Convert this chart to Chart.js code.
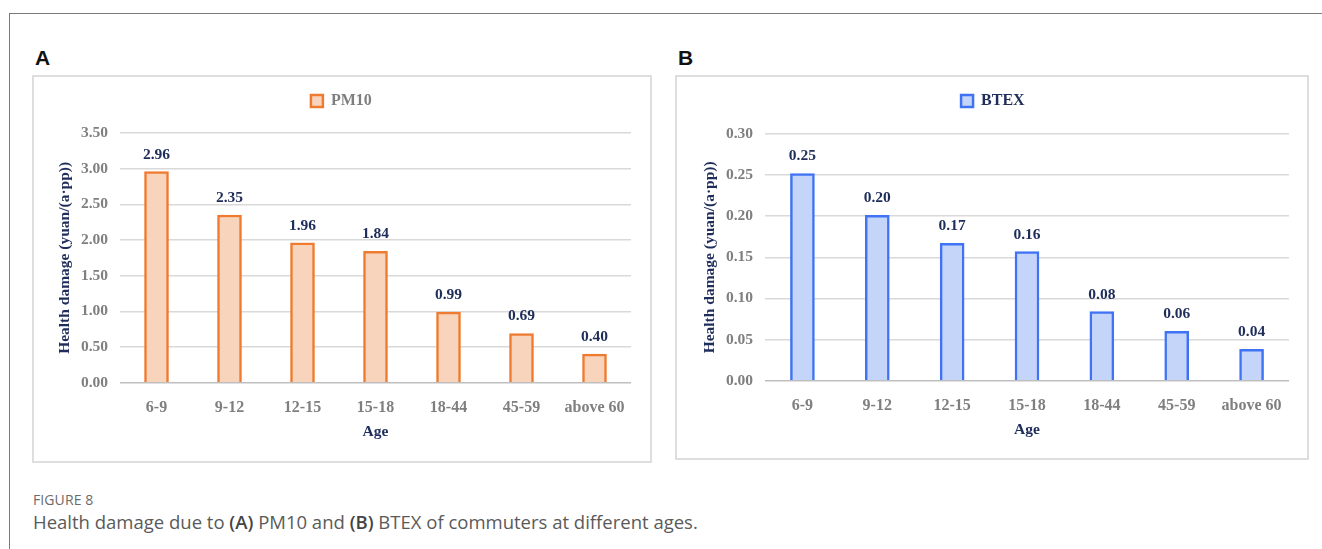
<!DOCTYPE html>
<html>
<head>
<meta charset="utf-8">
<script src="https://cdn.jsdelivr.net/npm/chart.js@4.4.0/dist/chart.umd.min.js"></script>
<style>
  html, body { margin: 0; padding: 0; background: #fff; }
  body { width: 1322px; height: 549px; position: relative; overflow: hidden; }
  .frame { position: absolute; left: 9px; top: 13px; width: 1400px; height: 600px;
           border-top: 1px solid #7a7a7a; border-left: 1px solid #7a7a7a; }
  .plabel { position: absolute; font-family: "Liberation Sans", Arial, sans-serif; font-weight: bold;
            font-size: 21px; color: #111; line-height: 1; }
  .box { position: absolute; box-sizing: border-box; border: 2px solid #dedede; background: #fff; }
  canvas.c { position: absolute; }
  .fig { position: absolute; left: 33px; top: 490px; font-family: "Open Sans", sans-serif;
         font-size: 14px; color: #6b6b6b; letter-spacing: 0.1px; }
  .cap { position: absolute; left: 33px; top: 509px; font-family: "Open Sans", sans-serif;
         font-size: 18.5px; color: #5a5a5a; white-space: nowrap; }
  .cap b { font-weight: 600; color: #444; }
</style>
</head>
<body>
<div class="frame"></div>
<div class="plabel" style="left:35px; top:47px;">A</div>
<div class="plabel" style="left:678px; top:47px;">B</div>
<div class="box" style="left:32px; top:75px; width:620px; height:388px;"></div>
<div class="box" style="left:675px; top:75px; width:634px; height:385px;"></div>
<canvas class="c" id="chartA"></canvas>
<canvas class="c" id="chartB"></canvas>
<div class="fig">FIGURE 8</div>
<div class="cap">Health damage due to <b>(A)</b> PM10 and <b>(B)</b> BTEX of commuters at different ages.</div>

<script>
// ---- data ----
const ageGroups = ["6-9", "9-12", "12-15", "15-18", "18-44", "45-59", "above 60"];
const pm10Values = [2.96, 2.35, 1.96, 1.84, 0.99, 0.69, 0.40];
const btexValues = [0.252, 0.201, 0.167, 0.157, 0.084, 0.060, 0.038];
const pm10Ticks = [0, 0.5, 1.0, 1.5, 2.0, 2.5, 3.0, 3.5];
const btexTicks = [0, 0.05, 0.10, 0.15, 0.20, 0.25, 0.30];
const yTitle = "Health damage (yuan/(a\u00b7pp))";
const xTitle = "Age";

const SERIF = '"Liberation Serif", "Times New Roman", serif';
const NAVY = '#1f2d5a';
const TICKGRAY = '#7f7f7f';

const valueLabels = {
  id: 'valueLabels',
  afterDatasetsDraw(chart) {
    const ctx = chart.ctx;
    ctx.save();
    ctx.font = 'bold 15.5px ' + SERIF;
    ctx.fillStyle = NAVY;
    ctx.textAlign = 'center';
    ctx.textBaseline = 'alphabetic';
    chart.data.datasets.forEach((ds, di) => {
      chart.getDatasetMeta(di).data.forEach((bar, i) => {
        ctx.fillText(ds.data[i].toFixed(2), bar.x, bar.y - 13);
      });
    });
    ctx.restore();
  }
};

// adds extra space below the legend
const legendGap = {
  id: 'legendGap',
  beforeLayout(chart, args, opts) {
    const lg = chart.legend;
    if (lg && !lg._gapWrapped) {
      const orig = lg.fit;
      lg.fit = function () { orig.call(this); this.height += opts.extra || 0; };
      lg._gapWrapped = true;
    }
  }
};

function makeChart(id, cfg) {
  const cv = document.getElementById(id);
  const itemH = 16, lp = 10;
  const canvasTop = cfg.legendCY - lp - itemH / 2;
  const legendH = itemH + lp + 10;
  const extra = cfg.chartTop - canvasTop - legendH;
  const canvasLeft = cfg.canvasLeft, canvasRight = cfg.canvasRight;
  const titleLH = 15.5 * 1.2;
  const padLeft = cfg.yTitleCX - canvasLeft - (4 + titleLH / 2);
  const yWidth = cfg.chartLeft - canvasLeft - padLeft;
  const xScaleBottom = cfg.xTitleCY + 4 + titleLH / 2;
  const xHeight = xScaleBottom - cfg.chartBottom;
  const canvasBottom = xScaleBottom + 4;
  const W = canvasRight - canvasLeft, H = canvasBottom - canvasTop;
  cv.style.left = canvasLeft + 'px';
  cv.style.top = canvasTop + 'px';
  cv.style.width = W + 'px';
  cv.style.height = H + 'px';
  cv.width = W; cv.height = H;

  return new Chart(cv, {
    type: 'bar',
    data: {
      labels: ageGroups,
      datasets: [{
        label: cfg.label,
        data: cfg.data,
        backgroundColor: cfg.fill,
        borderColor: cfg.border,
        borderWidth: 2.5,
        borderSkipped: 'bottom',
        barThickness: 24
      }]
    },
    options: {
      responsive: false,
      animation: false,
      devicePixelRatio: 1,
      layout: { padding: { left: padLeft, right: canvasRight - cfg.chartRight, top: 0, bottom: 4 } },
      plugins: {
        legendGap: { extra: extra },
        legend: {
          position: 'top',
          align: 'center',
          labels: {
            boxWidth: 12, boxHeight: 12, padding: lp,
            color: cfg.legendColor,
            font: { family: SERIF, size: 16, weight: 'bold' }
          }
        },
        tooltip: { enabled: false }
      },
      scales: {
        x: {
          grid: { display: false, drawTicks: false },
          border: { display: false },
          ticks: { color: TICKGRAY, font: { family: SERIF, size: 16, weight: 'bold' }, padding: 16, maxRotation: 0, autoSkip: false },
          title: { display: true, text: xTitle, color: NAVY, font: { family: SERIF, size: 15.5, weight: 'bold' }, padding: { top: 4, bottom: 4 } },
          afterFit(s) { s.height = xHeight; }
        },
        y: {
          min: 0, max: cfg.max,
          afterBuildTicks(s) { s.ticks = cfg.ticks.map(v => ({ value: v })); },
          grid: {
            drawTicks: false,
            color: ctx => (ctx.tick && ctx.tick.value === 0) ? '#bfbfbf' : '#d9d9d9',
            lineWidth: 1.5
          },
          border: { display: false },
          ticks: { color: TICKGRAY, font: { family: SERIF, size: 15.5, weight: 'bold' }, padding: 12,
                   callback: v => Number(v).toFixed(2) },
          title: { display: true, text: yTitle, color: NAVY, font: { family: SERIF, size: 15.5, weight: 'bold' }, padding: { top: 4, bottom: 4 } },
          afterFit(s) { s.width = yWidth; }
        }
      }
    },
    plugins: [legendGap, valueLabels]
  });
}

makeChart('chartA', {
  label: 'PM10', data: pm10Values, ticks: pm10Ticks, max: 3.5,
  fill: '#f9d4bc', border: '#ee7b30', legendColor: TICKGRAY,
  canvasLeft: 34, canvasRight: 650,
  chartLeft: 120, chartRight: 631, chartTop: 133, chartBottom: 383,
  legendCY: 101, yTitleCX: 65, xTitleCY: 432
});

makeChart('chartB', {
  label: 'BTEX', data: btexValues, ticks: btexTicks, max: 0.3,
  fill: '#c5d5fa', border: '#3f73f4', legendColor: NAVY,
  canvasLeft: 677, canvasRight: 1307,
  chartLeft: 765, chartRight: 1289, chartTop: 134, chartBottom: 381,
  legendCY: 101, yTitleCX: 710, xTitleCY: 430
});
</script>
</body>
</html>
